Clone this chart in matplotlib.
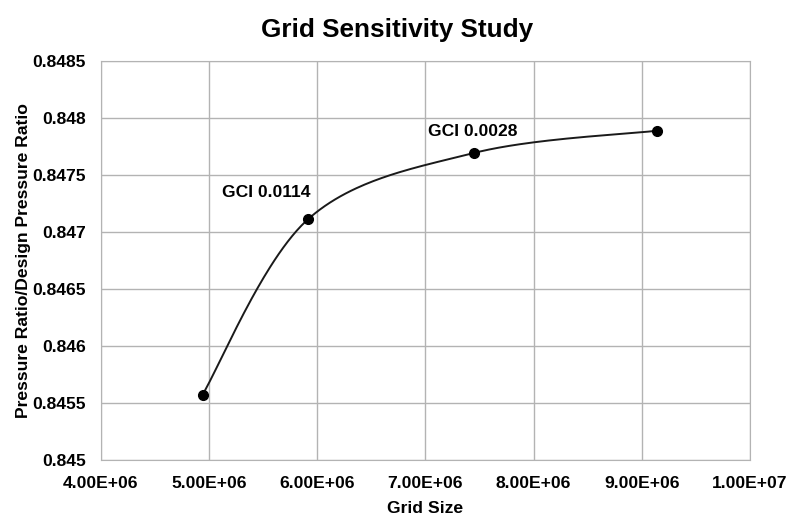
import numpy as np
import matplotlib
matplotlib.use("Agg")
import matplotlib.pyplot as plt

plt.rcParams['font.family'] = ['Liberation Sans', 'DejaVu Sans']
plt.rcParams['font.weight'] = 'bold'

# data
grid_size = [4.94e6, 5.916e6, 7.446e6, 9.142e6]
pressure_ratio = [0.84557, 0.84711, 0.84769, 0.847886]

x_ticks = [4e6, 5e6, 6e6, 7e6, 8e6, 9e6, 10e6]
x_labels = ['4.00E+06', '5.00E+06', '6.00E+06', '7.00E+06', '8.00E+06', '9.00E+06', '1.00E+07']
y_ticks = [0.845, 0.8455, 0.846, 0.8465, 0.847, 0.8475, 0.848, 0.8485]
y_labels = ['0.845', '0.8455', '0.846', '0.8465', '0.847', '0.8475', '0.848', '0.8485']

notes = ['GCI 0.0114', 'GCI 0.0028']
note_pos = [(5.12e6, 0.84734), (7.02e6, 0.84788)]


def smooth(xs, ys, n=60):
    # excel-style smoothed line: cubic bezier with catmull-rom control points
    pts = np.column_stack([xs, ys])
    out = [pts[:1]]
    for i in range(len(pts) - 1):
        p0 = pts[i - 1] if i > 0 else pts[i]
        p1 = pts[i]
        p2 = pts[i + 1]
        p3 = pts[i + 2] if i + 2 < len(pts) else pts[i + 1]
        c1 = p1 + (p2 - p0) / 6
        c2 = p2 - (p3 - p1) / 6
        t = np.linspace(0, 1, n)[1:, None]
        seg = ((1 - t) ** 3) * p1 + 3 * ((1 - t) ** 2) * t * c1 + 3 * (1 - t) * t ** 2 * c2 + t ** 3 * p2
        out.append(seg)
    out = np.vstack(out)
    return out[:, 0], out[:, 1]


fig = plt.figure(figsize=(7.9, 5.16), dpi=100)
ax = fig.add_axes([0.1276, 0.1091, 0.8218, 0.7733])

sx, sy = smooth(grid_size, pressure_ratio)
ax.plot(sx, sy, color='#1a1a1a', lw=1.4, zorder=3)
ax.plot(grid_size, pressure_ratio, 'o', color='black', ms=7, zorder=4)

for txt, (tx, ty) in zip(notes, note_pos):
    ax.text(tx, ty, txt, fontsize=12.6, fontweight='bold', va='center', ha='left')

ax.set_xlim(4e6, 10e6)
ax.set_ylim(0.845, 0.8485)
ax.set_xticks(x_ticks)
ax.set_xticklabels(x_labels)
ax.set_yticks(y_ticks)
ax.set_yticklabels(y_labels)
ax.tick_params(length=0, labelsize=12.6)
ax.tick_params(axis='x', pad=12)
ax.tick_params(axis='y', pad=11)
ax.grid(True, color='#b3b3b3', lw=1)
ax.set_axisbelow(True)
for s in ax.spines.values():
    s.set_color('#b3b3b3')

fig.text(0.503, 1 - 30 / 516, 'Grid Sensitivity Study', fontsize=18.8, fontweight='bold',
         ha='center', va='center')
ax.set_xlabel('Grid Size', fontsize=12.6, fontweight='bold', labelpad=7)
ax.set_ylabel('Pressure Ratio/Design Pressure Ratio', fontsize=12.6, fontweight='bold', labelpad=1)

fig.savefig('out.png', dpi=100)
